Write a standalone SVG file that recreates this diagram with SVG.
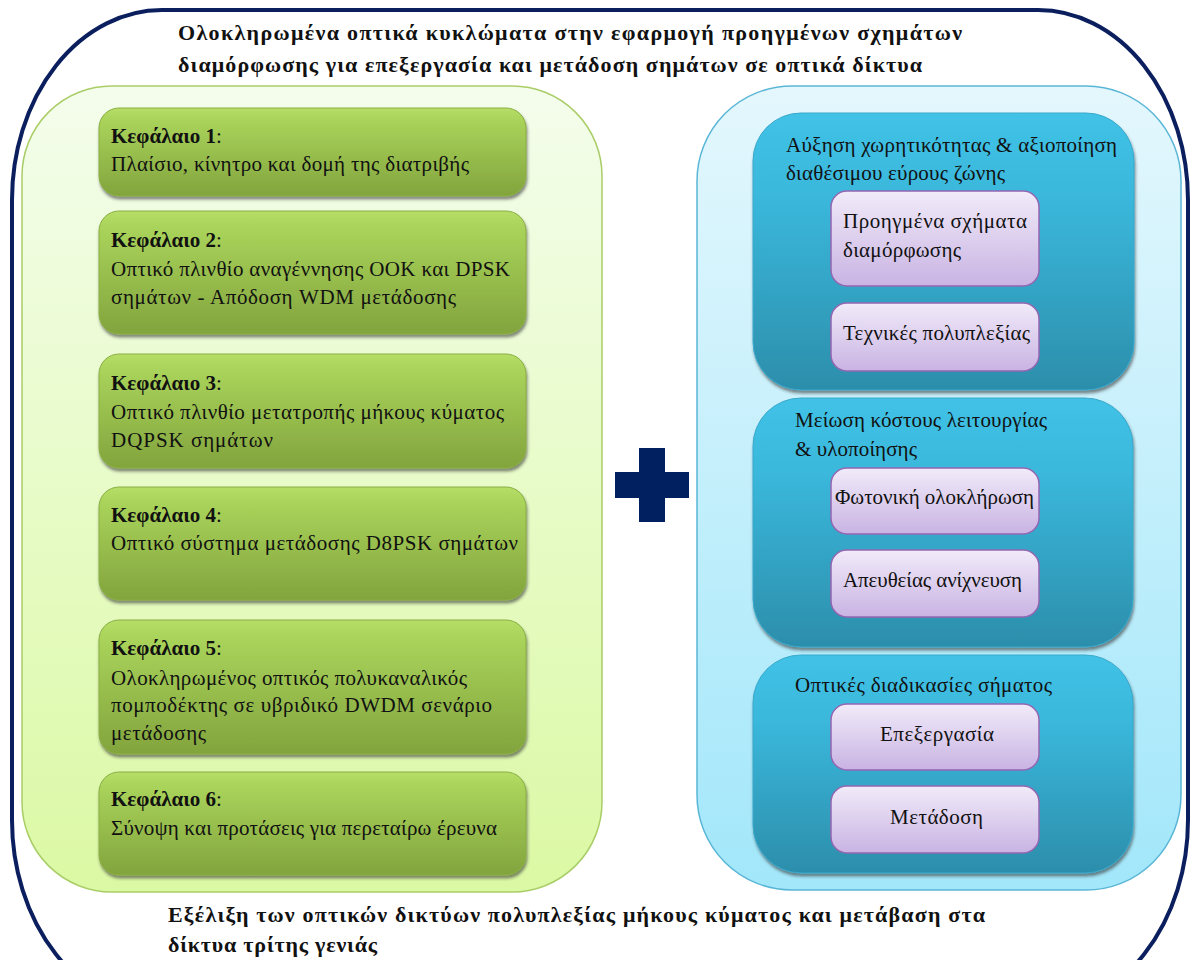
<svg xmlns="http://www.w3.org/2000/svg" width="1192" height="960" viewBox="0 0 1192 960">
<defs>
<linearGradient id="gPanel" x1="0" y1="0" x2="0" y2="1"><stop offset="0" stop-color="#F4FDEC"/><stop offset="1" stop-color="#DBF9A4"/></linearGradient>
<linearGradient id="bPanel" x1="0" y1="0" x2="0" y2="1"><stop offset="0" stop-color="#E4F7FD"/><stop offset="1" stop-color="#A2E7FA"/></linearGradient>
<linearGradient id="gBox" x1="0" y1="0" x2="0" y2="1"><stop offset="0" stop-color="#B6DE68"/><stop offset="0.12" stop-color="#AAD45B"/><stop offset="1" stop-color="#82A43D"/></linearGradient>
<linearGradient id="tBox" x1="0" y1="0" x2="0" y2="1"><stop offset="0" stop-color="#40C2E6"/><stop offset="0.3" stop-color="#3AB8DC"/><stop offset="1" stop-color="#2C8EAB"/></linearGradient>
<linearGradient id="pBox" x1="0" y1="0" x2="0" y2="1"><stop offset="0" stop-color="#F1EBF9"/><stop offset="1" stop-color="#C9B3E3"/></linearGradient>
<filter id="sh" x="-5%" y="-5%" width="110%" height="115%"><feDropShadow dx="1" dy="3" stdDeviation="1.8" flood-color="#2a2a2a" flood-opacity="0.55"/></filter>
</defs>
<style>
.t{font-family:"Liberation Serif","DejaVu Serif",serif;font-size:21px;fill:#111}
.b{font-weight:bold}
.hd{font-family:"Liberation Serif","DejaVu Serif",serif;font-size:22px;font-weight:bold;fill:#111}
.gbox{fill:url(#gBox);stroke:#8AAE44;stroke-width:1;filter:url(#sh)}
.tbox{fill:url(#tBox);stroke:#3AA9CC;stroke-width:1;filter:url(#sh)}
.pbox{fill:url(#pBox);stroke:#9466B2;stroke-width:1.5}
</style>
<rect width="1192" height="960" fill="#FFFFFF"/>
<g id="frame">
<rect x="12" y="10" width="1176" height="1000" rx="150" ry="190" fill="none" stroke="#0B1F5E" stroke-width="4"/>
</g>
<g id="title">
<text class="hd" x="178" y="40" textLength="784">Ολοκληρωμένα οπτικά κυκλώματα στην εφαρμογή προηγμένων σχημάτων</text>
<text class="hd" x="178" y="72" textLength="744">διαμόρφωσης για επεξεργασία και μετάδοση σημάτων σε οπτικά δίκτυα</text>
</g>
<g id="left-panel">
<rect x="22" y="86" width="580" height="806" rx="90" ry="90" fill="url(#gPanel)" stroke="#A9CD67" stroke-width="1.5"/>
</g>
<g id="chapter1">
<rect class="gbox" x="99" y="108" width="427" height="88" rx="20"/>
<text class="t" x="111" y="143"><tspan class="b">Κεφάλαιο 1</tspan>:</text>
<text class="t" x="111" y="171" textLength="358">Πλαίσιο, κίνητρο και δομή της διατριβής</text>
</g>
<g id="chapter2">
<rect class="gbox" x="99" y="211" width="427" height="123" rx="20"/>
<text class="t" x="111" y="247"><tspan class="b">Κεφάλαιο 2</tspan>:</text>
<text class="t" x="111" y="276" textLength="399">Οπτικό πλινθίο αναγέννησης OOK και DPSK</text>
<text class="t" x="111" y="304" textLength="345">σημάτων - Απόδοση WDM μετάδοσης</text>
</g>
<g id="chapter3">
<rect class="gbox" x="99" y="354" width="427" height="114" rx="20"/>
<text class="t" x="111" y="390"><tspan class="b">Κεφάλαιο 3</tspan>:</text>
<text class="t" x="111" y="419" textLength="393">Οπτικό πλινθίο μετατροπής μήκους κύματος</text>
<text class="t" x="111" y="447" textLength="162">DQPSK σημάτων</text>
</g>
<g id="chapter4">
<rect class="gbox" x="99" y="487" width="427" height="113" rx="20"/>
<text class="t" x="111" y="522"><tspan class="b">Κεφάλαιο 4</tspan>:</text>
<text class="t" x="111" y="550" textLength="407">Οπτικό σύστημα μετάδοσης D8PSK σημάτων</text>
</g>
<g id="chapter5">
<rect class="gbox" x="99" y="620" width="427" height="134" rx="20"/>
<text class="t" x="111" y="655"><tspan class="b">Κεφάλαιο 5</tspan>:</text>
<text class="t" x="111" y="685" textLength="356">Ολοκληρωμένος οπτικός πολυκαναλικός</text>
<text class="t" x="111" y="712" textLength="381">πομποδέκτης σε υβριδικό DWDM σενάριο</text>
<text class="t" x="111" y="740" textLength="95">μετάδοσης</text>
</g>
<g id="chapter6">
<rect class="gbox" x="99" y="772" width="427" height="103" rx="20"/>
<text class="t" x="111" y="806"><tspan class="b">Κεφάλαιο 6</tspan>:</text>
<text class="t" x="111" y="835" textLength="386">Σύνοψη και προτάσεις για περεταίρω έρευνα</text>
</g>
<g id="plus">
<path d="M615,472 H639 V448 H665 V472 H689 V498 H665 V522 H639 V498 H615 Z" fill="#002060"/>
</g>
<g id="right-panel">
<rect x="697" y="86" width="484" height="804" rx="95" ry="95" fill="url(#bPanel)" stroke="#5AB6D6" stroke-width="1.5"/>
</g>
<g id="capacity">
<rect class="tbox" x="753" y="113" width="381" height="277" rx="48"/>
<text class="t" x="786" y="152" textLength="331">Αύξηση χωρητικότητας &amp; αξιοποίηση</text>
<text class="t" x="786" y="180" textLength="219">διαθέσιμου εύρους ζώνης</text>
</g>
<g id="modulation">
<rect class="pbox" x="831" y="191" width="208" height="95" rx="16"/>
<text class="t" x="843" y="228" textLength="184">Προηγμένα σχήματα</text>
<text class="t" x="843" y="257" textLength="118">διαμόρφωσης</text>
</g>
<g id="multiplexing">
<rect class="pbox" x="831" y="303" width="208" height="68" rx="16"/>
<text class="t" x="843" y="340" textLength="187">Τεχνικές πολυπλεξίας</text>
</g>
<g id="cost">
<rect class="tbox" x="753" y="398" width="380" height="249" rx="48"/>
<text class="t" x="795" y="427" textLength="252">Μείωση κόστους λειτουργίας</text>
<text class="t" x="795" y="456" textLength="122">&amp; υλοποίησης</text>
</g>
<g id="photonic">
<rect class="pbox" x="831" y="468" width="208" height="66" rx="16"/>
<text class="t" x="835" y="504" textLength="199">Φωτονική ολοκλήρωση</text>
</g>
<g id="direct">
<rect class="pbox" x="831" y="550" width="208" height="67" rx="16"/>
<text class="t" x="843" y="587" textLength="179">Απευθείας ανίχνευση</text>
</g>
<g id="processes">
<rect class="tbox" x="753" y="655" width="380" height="218" rx="48"/>
<text class="t" x="795" y="692" textLength="257">Οπτικές διαδικασίες σήματος</text>
</g>
<g id="processing">
<rect class="pbox" x="831" y="704" width="208" height="66" rx="16"/>
<text class="t" x="880" y="741" textLength="114">Επεξεργασία</text>
</g>
<g id="transmission">
<rect class="pbox" x="831" y="786" width="208" height="67" rx="16"/>
<text class="t" x="890" y="824" textLength="93">Μετάδοση</text>
</g>
<g id="connectors"/>
<g id="footer">
<text class="hd" x="168" y="922" textLength="817">Εξέλιξη των οπτικών δικτύων πολυπλεξίας μήκους κύματος και μετάβαση στα</text>
<text class="hd" x="168" y="952" textLength="209">δίκτυα τρίτης γενιάς</text>
</g>
</svg>
